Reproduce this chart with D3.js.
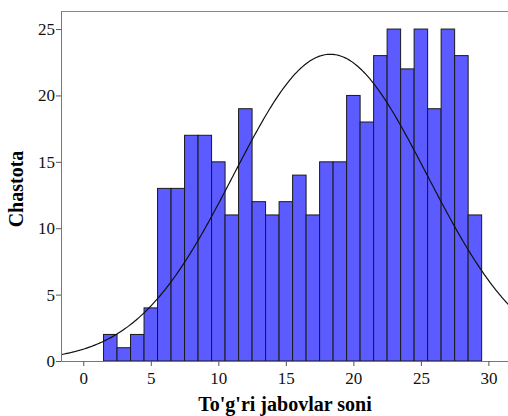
<!DOCTYPE html>
<html><head><meta charset="utf-8">
<script src="https://cdn.jsdelivr.net/npm/d3@7/dist/d3.min.js"></script>
<style>body{margin:0;background:#fff}svg{display:block}svg text{font-family:'Liberation Serif','Times New Roman',serif}</style>
</head><body><svg id="c" width="508" height="416"></svg>
<script>
const binCenters = [2,3,4,5,6,7,8,9,10,11,12,13,14,15,16,17,18,19,20,21,22,23,24,25,26,27,28,29];
const counts = [2,1,2,4,13,13,17,17,15,11,19,12,11,12,14,11,15,15,20,18,23,25,22,25,19,25,23,11];
const xTicks = [0,5,10,15,20,25,30];
const yTicks = [0,5,10,15,20,25];
const xLabel = "To'g'ri jabovlar soni";
const yLabel = "Chastota";

const svg = d3.select("#c");
const L=61, R=510, T=11, B=361;
const x = d3.scaleLinear().domain([-1.65,31.6]).range([L,R]);
const y = d3.scaleLinear().domain([0,26.36]).range([B,T]);
const font = "'Liberation Serif', 'Times New Roman', serif";

svg.append("clipPath").attr("id","clip").append("rect").attr("x",L).attr("y",T).attr("width",R-L).attr("height",B-T);

// bars
svg.append("g").selectAll("rect").data(binCenters).join("rect")
  .attr("x",(d)=>x(d-0.5)).attr("width",(d)=>x(d+0.5)-x(d-0.5))
  .attr("y",(d,i)=>y(counts[i])).attr("height",(d,i)=>y(0)-y(counts[i]))
  .attr("fill","#5b5bff").attr("stroke","#1a1a1a").attr("stroke-width",1);

// normal curve fitted from data
const N = d3.sum(counts);
const mean = d3.sum(binCenters,(d,i)=>d*counts[i])/N;
const sd = Math.sqrt(d3.sum(binCenters,(d,i)=>counts[i]*(d-mean)**2)/(N-1));
const xs = d3.range(-2, 32.01, 0.1);
const line = d3.line().x(d=>x(d)).y(d=>y(N/(sd*Math.sqrt(2*Math.PI))*Math.exp(-((d-mean)**2)/(2*sd*sd))));
svg.append("path").datum(xs).attr("d",line).attr("fill","none").attr("stroke","#111").attr("stroke-width",1.2).attr("clip-path","url(#clip)");

// frame
svg.append("line").attr("x1",L).attr("x2",R).attr("y1",T+0.5).attr("y2",T+0.5).attr("stroke","#888");

// axes
const xa = svg.append("g").attr("transform",`translate(0,${B})`)
  .call(d3.axisBottom(x).tickValues(xTicks).tickSize(5).tickPadding(6).tickSizeOuter(0));
const ya = svg.append("g").attr("transform",`translate(${L},0)`)
  .call(d3.axisLeft(y).tickValues(yTicks).tickSize(5).tickPadding(1).tickSizeOuter(0));
[xa,ya].forEach(g=>{
  g.attr("font-family",font).attr("font-size",17);
  g.select(".domain").attr("stroke","#777");
  g.selectAll(".tick line").attr("stroke","#555");
  g.selectAll("text").style("font-family",font).style("font-size","17px").attr("fill","#111");
});

svg.append("text").attr("x",285).attr("y",411).attr("text-anchor","middle")
  .style("font-family",font).style("font-size","20px").attr("font-weight","bold").text(xLabel);
svg.append("text").attr("transform",`translate(23,189) rotate(-90)`).attr("text-anchor","middle")
  .style("font-family",font).style("font-size","20px").attr("font-weight","bold").text(yLabel);
</script></body></html>
